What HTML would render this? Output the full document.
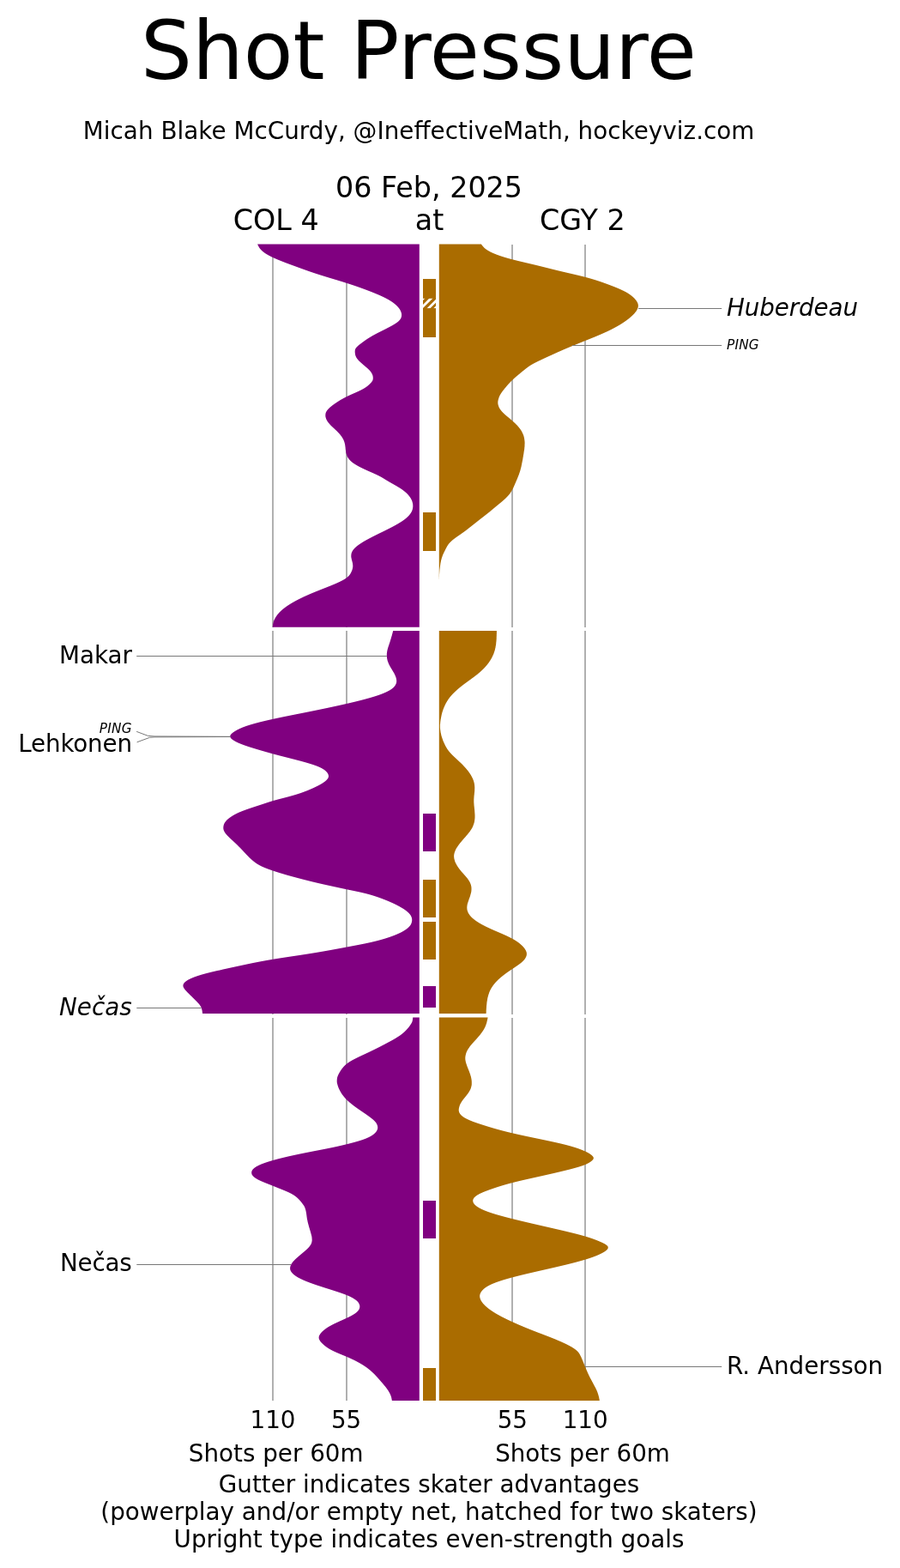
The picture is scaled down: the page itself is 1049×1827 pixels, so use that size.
<!DOCTYPE html>
<html lang="en"><head><meta charset="utf-8"><title>Shot Pressure</title>
<style>html,body{margin:0;padding:0;background:#fff}svg{display:block}</style></head>
<body>
<svg width="1049" height="1827" viewBox="0 0 1049 1827" font-family="'DejaVu Sans','Liberation Sans',sans-serif" fill="#000">
<rect width="1049" height="1827" fill="#fff"/>
<path d="M318.0,285V731M404.0,285V731M597.0,285V731M682.0,285V731M318.0,735V1182M404.0,735V1182M597.0,735V1182M682.0,735V1182M318.0,1186V1632M404.0,1186V1632M597.0,1186V1632M682.0,1186V1632" stroke="#b0b0b0" stroke-width="2" fill="none"/>
<path d="M488.8,284.6L300.1,284.6L300.8,286.1L301.6,287.6L302.5,289.1L303.7,290.6L305.1,292.1L306.9,293.6L308.9,295.1L311.3,296.6L314.0,298.1L317.0,299.6L320.2,301.1L323.7,302.6L327.4,304.1L331.2,305.6L335.1,307.1L339.2,308.6L343.3,310.1L347.4,311.6L351.5,313.1L355.7,314.6L359.9,316.1L364.3,317.6L368.8,319.1L373.5,320.6L378.3,322.1L383.2,323.6L388.2,325.1L393.2,326.6L398.1,328.1L402.9,329.6L407.6,331.1L412.1,332.6L416.5,334.1L420.7,335.6L424.8,337.1L428.8,338.6L432.7,340.1L436.4,341.6L440.0,343.1L443.5,344.6L446.7,346.1L449.7,347.6L452.5,349.1L455.0,350.6L457.3,352.1L459.3,353.6L461.1,355.1L462.7,356.6L464.1,358.1L465.3,359.6L466.3,361.1L467.0,362.6L467.6,364.1L468.0,365.6L468.1,367.1L468.0,368.6L467.6,370.1L466.9,371.6L465.8,373.1L464.3,374.6L462.4,376.1L460.1,377.6L457.6,379.1L454.9,380.6L452.0,382.1L449.1,383.6L446.1,385.1L443.1,386.6L440.1,388.1L437.3,389.6L434.5,391.1L432.0,392.6L429.5,394.1L427.2,395.6L425.1,397.1L423.0,398.6L421.0,400.1L419.0,401.6L417.2,403.1L415.7,404.6L414.5,406.1L413.9,407.6L413.7,409.1L413.7,410.6L413.9,412.1L414.1,413.6L414.6,415.1L415.3,416.6L416.3,418.1L417.5,419.6L419.0,421.1L420.6,422.6L422.3,424.1L424.0,425.6L425.8,427.1L427.6,428.6L429.2,430.1L430.7,431.6L432.0,433.1L433.0,434.6L433.8,436.1L434.4,437.6L434.7,439.1L434.8,440.6L434.7,442.1L434.2,443.6L433.2,445.1L431.9,446.6L430.4,448.1L428.7,449.6L426.7,451.1L424.4,452.6L421.7,454.1L418.7,455.6L415.4,457.1L412.0,458.6L408.6,460.1L405.4,461.6L402.4,463.1L399.6,464.6L396.9,466.1L394.5,467.6L392.2,469.1L390.0,470.6L387.9,472.1L386.0,473.6L384.2,475.1L382.7,476.6L381.4,478.1L380.4,479.6L379.7,481.1L379.4,482.6L379.3,484.1L379.4,485.6L379.8,487.1L380.3,488.6L381.1,490.1L382.0,491.6L383.2,493.1L384.5,494.6L385.9,496.1L387.5,497.6L389.1,499.1L390.7,500.6L392.3,502.1L393.8,503.6L395.2,505.1L396.5,506.6L397.7,508.1L398.7,509.6L399.6,511.1L400.4,512.6L401.0,514.1L401.5,515.6L401.9,517.1L402.2,518.6L402.4,520.1L402.6,521.6L402.7,523.1L402.9,524.6L403.1,526.1L403.3,527.6L403.7,529.1L404.2,530.6L404.8,532.1L405.7,533.6L406.8,535.1L408.1,536.6L409.7,538.1L411.6,539.6L413.9,541.1L416.4,542.6L419.1,544.1L422.1,545.6L425.3,547.1L428.6,548.6L432.0,550.1L435.4,551.6L438.7,553.1L441.8,554.6L444.6,556.1L447.1,557.6L449.5,559.1L452.0,560.6L454.6,562.1L457.2,563.6L459.9,565.1L462.5,566.6L465.0,568.1L467.4,569.6L469.5,571.1L471.4,572.6L473.2,574.1L474.8,575.6L476.1,577.1L477.3,578.6L478.4,580.1L479.2,581.6L480.0,583.1L480.5,584.6L480.9,586.1L481.2,587.6L481.3,589.1L481.3,590.6L481.1,592.1L480.8,593.6L480.3,595.1L479.6,596.6L478.7,598.1L477.6,599.6L476.3,601.1L474.8,602.6L473.1,604.1L471.2,605.6L469.1,607.1L466.8,608.6L464.3,610.1L461.7,611.6L459.0,613.1L456.1,614.6L453.2,616.1L450.2,617.6L447.2,619.1L444.1,620.6L441.0,622.1L438.0,623.6L435.0,625.1L432.1,626.6L429.3,628.1L426.5,629.6L423.9,631.1L421.5,632.6L419.2,634.1L417.1,635.6L415.2,637.1L413.6,638.6L412.2,640.1L411.1,641.6L410.3,643.1L409.7,644.6L409.4,646.1L409.3,647.6L409.3,649.1L409.6,650.6L409.9,652.1L410.3,653.6L410.7,655.1L411.0,656.6L411.2,658.1L411.3,659.6L411.2,661.1L410.9,662.6L410.5,664.1L409.9,665.6L409.2,667.1L408.4,668.6L407.4,670.1L406.0,671.6L404.3,673.1L402.2,674.6L399.6,676.1L396.7,677.6L393.5,679.1L390.1,680.6L386.5,682.1L382.8,683.6L379.0,685.1L375.2,686.6L371.4,688.1L367.7,689.6L364.0,691.1L360.5,692.6L357.1,694.1L353.8,695.6L350.7,697.1L347.7,698.6L344.8,700.1L342.1,701.6L339.5,703.1L337.1,704.6L334.8,706.1L332.7,707.6L330.7,709.1L328.9,710.6L327.2,712.1L325.7,713.6L324.4,715.1L323.1,716.6L322.1,718.1L321.1,719.6L320.3,721.1L319.5,722.6L318.9,724.1L318.5,725.6L318.2,727.1L318.0,728.6L317.9,730.1L317.9,730.8L488.8,730.8Z" fill="#800080"/>
<path d="M488.8,735.1L458.2,735.1L457.8,736.6L457.4,738.1L457.0,739.6L456.6,741.1L456.1,742.6L455.7,744.1L455.2,745.6L454.8,747.1L454.3,748.6L453.8,750.1L453.3,751.6L452.8,753.1L452.3,754.6L451.9,756.1L451.5,757.6L451.2,759.1L451.0,760.6L450.8,762.1L450.8,763.6L450.8,765.1L451.0,766.6L451.3,768.1L451.6,769.6L452.1,771.1L452.7,772.6L453.3,774.1L454.1,775.6L454.9,777.1L455.8,778.6L456.7,780.1L457.6,781.6L458.5,783.1L459.4,784.6L460.1,786.1L460.8,787.6L461.4,789.1L461.8,790.6L462.1,792.1L462.2,793.6L462.1,795.1L461.7,796.6L461.0,798.1L460.0,799.6L458.7,801.1L456.9,802.6L454.7,804.1L452.0,805.6L448.8,807.1L445.2,808.6L441.1,810.1L436.5,811.6L431.5,813.1L426.1,814.6L420.4,816.1L414.4,817.6L408.1,819.1L401.6,820.6L394.9,822.1L388.0,823.6L381.0,825.1L373.8,826.6L366.5,828.1L359.1,829.6L351.6,831.1L344.0,832.6L336.5,834.1L329.1,835.6L322.0,837.1L315.1,838.6L308.6,840.1L302.4,841.6L296.8,843.1L291.6,844.6L286.9,846.1L282.9,847.6L279.4,849.1L276.4,850.6L273.8,852.1L271.6,853.6L269.8,855.1L268.6,856.6L268.1,858.1L268.6,859.6L269.9,861.1L272.0,862.6L274.5,864.1L277.6,865.6L281.2,867.1L285.2,868.6L289.6,870.1L294.4,871.6L299.3,873.1L304.4,874.6L309.6,876.1L314.9,877.6L320.4,879.1L326.1,880.6L332.0,882.1L337.9,883.6L343.7,885.1L349.5,886.6L355.0,888.1L360.1,889.6L364.9,891.1L369.1,892.6L372.7,894.1L375.6,895.6L378.0,897.1L379.8,898.6L381.2,900.1L382.2,901.6L382.8,903.1L383.0,904.6L382.7,906.1L381.8,907.6L380.5,909.1L378.8,910.6L376.7,912.1L374.3,913.6L371.6,915.1L368.6,916.6L365.5,918.1L362.1,919.6L358.6,921.1L354.7,922.6L350.6,924.1L346.0,925.6L340.9,927.1L335.5,928.6L329.7,930.1L323.9,931.6L318.4,933.1L313.5,934.6L309.0,936.1L304.5,937.6L299.9,939.1L295.3,940.6L290.8,942.1L286.5,943.6L282.5,945.1L278.8,946.6L275.6,948.1L272.8,949.6L270.3,951.1L268.1,952.6L266.1,954.1L264.4,955.6L263.1,957.1L262.0,958.6L261.2,960.1L260.7,961.6L260.4,963.1L260.3,964.6L260.4,966.1L260.8,967.6L261.5,969.1L262.4,970.6L263.6,972.1L264.9,973.6L266.4,975.1L267.9,976.6L269.5,978.1L271.2,979.6L272.8,981.1L274.4,982.6L276.0,984.1L277.5,985.6L279.0,987.1L280.5,988.6L281.9,990.1L283.3,991.6L284.7,993.1L286.1,994.6L287.5,996.1L289.0,997.6L290.4,999.1L292.0,1000.6L293.7,1002.1L295.5,1003.6L297.4,1005.1L299.6,1006.6L302.1,1008.1L305.0,1009.6L308.4,1011.1L312.3,1012.6L316.5,1014.1L321.0,1015.6L325.7,1017.1L330.7,1018.6L335.8,1020.1L341.3,1021.6L346.9,1023.1L352.6,1024.6L358.5,1026.1L364.5,1027.6L370.8,1029.1L377.4,1030.6L384.2,1032.1L391.1,1033.6L398.0,1035.1L405.1,1036.6L412.4,1038.1L419.5,1039.6L425.9,1041.1L431.5,1042.6L436.4,1044.1L440.9,1045.6L445.0,1047.1L448.9,1048.6L452.6,1050.1L456.0,1051.6L459.3,1053.1L462.3,1054.6L465.2,1056.1L467.8,1057.6L470.3,1059.1L472.5,1060.6L474.4,1062.1L476.1,1063.6L477.5,1065.1L478.6,1066.6L479.4,1068.1L479.9,1069.6L480.2,1071.1L480.2,1072.6L480.0,1074.1L479.6,1075.6L479.0,1077.1L478.0,1078.6L476.7,1080.1L475.1,1081.6L473.1,1083.1L470.8,1084.6L468.2,1086.1L465.1,1087.6L461.7,1089.1L457.9,1090.6L453.7,1092.1L449.1,1093.6L444.0,1095.1L438.3,1096.6L432.0,1098.1L425.0,1099.6L417.4,1101.1L409.5,1102.6L401.5,1104.1L393.5,1105.6L385.3,1107.1L376.9,1108.6L368.1,1110.1L358.8,1111.6L349.1,1113.1L339.0,1114.6L329.1,1116.1L319.6,1117.6L310.8,1119.1L302.7,1120.6L295.0,1122.1L287.8,1123.6L280.8,1125.1L273.8,1126.6L266.9,1128.1L260.0,1129.6L253.3,1131.1L246.9,1132.6L240.9,1134.1L235.4,1135.6L230.6,1137.1L226.3,1138.6L222.7,1140.1L219.6,1141.6L217.2,1143.1L215.4,1144.6L214.1,1146.1L213.5,1147.6L213.4,1149.1L213.9,1150.6L214.8,1152.1L215.9,1153.6L217.3,1155.1L218.7,1156.6L220.2,1158.1L221.7,1159.6L223.3,1161.1L224.8,1162.6L226.3,1164.1L227.8,1165.6L229.3,1167.1L230.7,1168.6L232.1,1170.1L233.2,1171.6L234.1,1173.1L234.8,1174.6L235.2,1176.1L235.6,1177.6L235.8,1179.1L236.0,1180.6L236.1,1181.1L488.8,1181.1Z" fill="#800080"/>
<path d="M488.8,1185.6L481.2,1185.6L481.1,1187.1L480.9,1188.6L480.6,1190.1L480.0,1191.6L479.1,1193.1L478.1,1194.6L477.1,1196.1L475.9,1197.6L474.6,1199.1L473.2,1200.6L471.7,1202.1L470.0,1203.6L468.2,1205.1L466.2,1206.6L463.9,1208.1L461.5,1209.6L459.0,1211.1L456.3,1212.6L453.5,1214.1L450.7,1215.6L447.9,1217.1L445.0,1218.6L442.1,1220.1L439.1,1221.6L436.1,1223.1L433.0,1224.6L429.9,1226.1L426.7,1227.6L423.5,1229.1L420.2,1230.6L417.1,1232.1L414.1,1233.6L411.2,1235.1L408.6,1236.6L406.2,1238.1L404.2,1239.6L402.4,1241.1L400.9,1242.6L399.6,1244.1L398.4,1245.6L397.3,1247.1L396.4,1248.6L395.5,1250.1L394.7,1251.6L394.0,1253.1L393.4,1254.6L393.0,1256.1L392.8,1257.6L392.7,1259.1L392.7,1260.6L392.9,1262.1L393.3,1263.6L393.7,1265.1L394.2,1266.6L394.8,1268.1L395.5,1269.6L396.3,1271.1L397.1,1272.6L398.0,1274.1L399.0,1275.6L400.2,1277.1L401.4,1278.6L402.7,1280.1L404.2,1281.6L405.8,1283.1L407.5,1284.6L409.3,1286.1L411.2,1287.6L413.1,1289.1L415.2,1290.6L417.3,1292.1L419.5,1293.6L421.7,1295.1L423.9,1296.6L426.1,1298.1L428.2,1299.6L430.3,1301.1L432.3,1302.6L434.2,1304.1L435.9,1305.6L437.3,1307.1L438.5,1308.6L439.3,1310.1L439.9,1311.6L440.2,1313.1L440.2,1314.6L439.9,1316.1L439.2,1317.6L438.2,1319.1L436.8,1320.6L435.0,1322.1L432.8,1323.6L430.0,1325.1L426.7,1326.6L422.7,1328.1L418.0,1329.6L412.7,1331.1L407.0,1332.6L400.9,1334.1L394.5,1335.6L387.6,1337.1L380.2,1338.6L372.5,1340.1L364.7,1341.6L357.1,1343.1L349.7,1344.6L342.6,1346.1L335.8,1347.6L329.5,1349.1L323.5,1350.6L318.0,1352.1L313.0,1353.6L308.5,1355.1L304.5,1356.6L301.2,1358.1L298.4,1359.6L296.3,1361.1L294.7,1362.6L293.7,1364.1L293.2,1365.6L293.2,1367.1L293.6,1368.6L294.6,1370.1L296.1,1371.6L298.2,1373.1L300.8,1374.6L303.9,1376.1L307.4,1377.6L311.1,1379.1L315.0,1380.6L318.7,1382.1L322.4,1383.6L326.1,1385.1L329.9,1386.6L333.5,1388.1L336.9,1389.6L339.8,1391.1L342.3,1392.6L344.5,1394.1L346.3,1395.6L347.9,1397.1L349.3,1398.6L350.6,1400.1L351.8,1401.6L352.9,1403.1L354.0,1404.6L354.9,1406.1L355.5,1407.6L356.0,1409.1L356.4,1410.6L356.7,1412.1L357.0,1413.6L357.2,1415.1L357.4,1416.6L357.6,1418.1L357.8,1419.6L358.1,1421.1L358.4,1422.6L358.7,1424.1L359.1,1425.6L359.5,1427.1L359.9,1428.6L360.3,1430.1L360.8,1431.6L361.2,1433.1L361.7,1434.6L362.1,1436.1L362.5,1437.6L362.9,1439.1L363.3,1440.6L363.5,1442.1L363.6,1443.6L363.7,1445.1L363.5,1446.6L363.2,1448.1L362.6,1449.6L361.7,1451.1L360.6,1452.6L359.3,1454.1L357.8,1455.6L356.1,1457.1L354.4,1458.6L352.6,1460.1L350.8,1461.6L349.0,1463.1L347.3,1464.6L345.6,1466.1L344.0,1467.6L342.5,1469.1L341.2,1470.6L340.1,1472.1L339.2,1473.6L338.6,1475.1L338.2,1476.6L338.1,1478.1L338.3,1479.6L338.9,1481.1L339.9,1482.6L341.2,1484.1L342.9,1485.6L345.0,1487.1L347.4,1488.6L350.3,1490.1L353.5,1491.6L357.0,1493.1L360.9,1494.6L365.0,1496.1L369.4,1497.6L374.0,1499.1L378.6,1500.6L383.4,1502.1L388.1,1503.6L392.7,1505.1L397.2,1506.6L401.4,1508.1L405.2,1509.6L408.5,1511.1L411.3,1512.6L413.7,1514.1L415.7,1515.6L417.2,1517.1L418.2,1518.6L418.9,1520.1L419.3,1521.6L419.3,1523.1L419.0,1524.6L418.3,1526.1L417.2,1527.6L415.7,1529.1L413.8,1530.6L411.4,1532.1L408.7,1533.6L405.7,1535.1L402.5,1536.6L399.2,1538.1L395.9,1539.6L392.6,1541.1L389.4,1542.6L386.5,1544.1L383.8,1545.6L381.3,1547.1L379.2,1548.6L377.3,1550.1L375.6,1551.6L374.2,1553.1L373.1,1554.6L372.2,1556.1L371.7,1557.6L371.6,1559.1L372.0,1560.6L372.8,1562.1L373.8,1563.6L375.2,1565.1L376.8,1566.6L378.5,1568.1L380.5,1569.6L382.7,1571.1L385.2,1572.6L388.1,1574.1L391.3,1575.6L394.8,1577.1L398.4,1578.6L402.1,1580.1L405.6,1581.6L408.9,1583.1L412.1,1584.6L415.1,1586.1L417.9,1587.6L420.5,1589.1L423.0,1590.6L425.3,1592.1L427.5,1593.6L429.4,1595.1L431.3,1596.6L433.0,1598.1L434.6,1599.6L436.2,1601.1L437.6,1602.6L439.0,1604.1L440.4,1605.6L441.7,1607.1L443.0,1608.6L444.3,1610.1L445.6,1611.6L446.9,1613.1L448.1,1614.6L449.4,1616.1L450.5,1617.6L451.6,1619.1L452.6,1620.6L453.5,1622.1L454.3,1623.6L455.0,1625.1L455.6,1626.6L456.1,1628.1L456.4,1629.6L456.7,1631.1L456.9,1631.9L488.8,1631.9Z" fill="#800080"/>
<path d="M511.8,284.6L560.9,284.6L562.0,286.1L563.3,287.6L564.7,289.1L566.6,290.6L568.9,292.1L571.6,293.6L574.8,295.1L578.5,296.6L582.6,298.1L587.2,299.6L592.3,301.1L597.9,302.6L603.9,304.1L610.2,305.6L616.6,307.1L623.0,308.6L629.1,310.1L635.1,311.6L641.1,313.1L647.1,314.6L653.3,316.1L659.7,317.6L666.2,319.1L672.6,320.6L678.8,322.1L684.5,323.6L689.8,325.1L694.7,326.6L699.3,328.1L703.6,329.6L707.7,331.1L711.7,332.6L715.6,334.1L719.3,335.6L722.8,337.1L726.0,338.6L729.0,340.1L731.6,341.6L733.9,343.1L735.9,344.6L737.7,346.1L739.3,347.6L740.6,349.1L741.8,350.6L742.7,352.1L743.4,353.6L743.8,355.1L743.9,356.6L743.7,358.1L743.2,359.6L742.5,361.1L741.6,362.6L740.4,364.1L739.2,365.6L737.7,367.1L736.1,368.6L734.4,370.1L732.6,371.6L730.6,373.1L728.5,374.6L726.3,376.1L724.0,377.6L721.5,379.1L718.9,380.6L716.1,382.1L713.3,383.6L710.3,385.1L707.1,386.6L703.8,388.1L700.4,389.6L696.9,391.1L693.3,392.6L689.6,394.1L685.9,395.6L682.1,397.1L678.4,398.6L674.7,400.1L671.0,401.6L667.3,403.1L663.7,404.6L660.1,406.1L656.6,407.6L653.2,409.1L649.8,410.6L646.5,412.1L643.2,413.6L639.9,415.1L636.6,416.6L633.4,418.1L630.2,419.6L627.0,421.1L624.0,422.6L621.2,424.1L618.6,425.6L616.3,427.1L614.3,428.6L612.3,430.1L610.5,431.6L608.6,433.1L606.8,434.6L605.0,436.1L603.2,437.6L601.4,439.1L599.7,440.6L598.1,442.1L596.5,443.6L595.0,445.1L593.6,446.6L592.2,448.1L590.9,449.6L589.7,451.1L588.4,452.6L587.2,454.1L586.0,455.6L584.9,457.1L583.9,458.6L583.0,460.1L582.2,461.6L581.6,463.1L581.1,464.6L580.7,466.1L580.4,467.6L580.3,469.1L580.4,470.6L580.7,472.1L581.2,473.6L581.8,475.1L582.7,476.6L583.8,478.1L585.0,479.6L586.5,481.1L588.0,482.6L589.7,484.1L591.5,485.6L593.3,487.1L595.1,488.6L596.8,490.1L598.5,491.6L600.1,493.1L601.6,494.6L603.1,496.1L604.4,497.6L605.6,499.1L606.7,500.6L607.7,502.1L608.5,503.6L609.2,505.1L609.9,506.6L610.4,508.1L610.8,509.6L611.1,511.1L611.3,512.6L611.5,514.1L611.6,515.6L611.6,517.1L611.5,518.6L611.5,520.1L611.3,521.6L611.2,523.1L611.0,524.6L610.7,526.1L610.5,527.6L610.3,529.1L610.0,530.6L609.8,532.1L609.5,533.6L609.3,535.1L609.0,536.6L608.7,538.1L608.4,539.6L608.1,541.1L607.8,542.6L607.5,544.1L607.1,545.6L606.7,547.1L606.3,548.6L605.8,550.1L605.3,551.6L604.8,553.1L604.2,554.6L603.6,556.1L603.0,557.6L602.4,559.1L601.7,560.6L601.1,562.1L600.4,563.6L599.8,565.1L599.1,566.6L598.5,568.1L597.7,569.6L596.9,571.1L596.0,572.6L595.1,574.1L594.0,575.6L592.8,577.1L591.4,578.6L590.0,580.1L588.4,581.6L586.7,583.1L585.0,584.6L583.2,586.1L581.3,587.6L579.5,589.1L577.7,590.6L575.9,592.1L574.1,593.6L572.3,595.1L570.5,596.6L568.6,598.1L566.7,599.6L564.8,601.1L562.9,602.6L560.9,604.1L559.0,605.6L557.1,607.1L555.2,608.6L553.3,610.1L551.4,611.6L549.5,613.1L547.6,614.6L545.7,616.1L543.8,617.6L541.8,619.1L539.7,620.6L537.6,622.1L535.4,623.6L533.2,625.1L531.1,626.6L529.1,628.1L527.2,629.6L525.6,631.1L524.1,632.6L522.8,634.1L521.8,635.6L520.9,637.1L520.1,638.6L519.3,640.1L518.6,641.6L517.8,643.1L517.1,644.6L516.4,646.1L515.8,647.6L515.3,649.1L514.8,650.6L514.4,652.1L514.0,653.6L513.7,655.1L513.4,656.6L513.2,658.1L513.0,659.6L512.8,661.1L512.6,662.6L512.4,664.1L512.3,665.6L512.2,667.1L512.1,668.6L512.0,670.1L512.0,671.6L511.9,673.1L511.9,674.6L511.8,676.1L511.8,677.6L511.8,679.1L511.8,680.6L511.8,682.1L511.8,683.6L511.8,685.1L511.8,686.6L511.8,688.1L511.8,689.6L511.8,691.1L511.8,692.6L511.8,694.1L511.8,695.6L511.8,697.1L511.8,698.6L511.8,700.1L511.8,701.6L511.8,703.1L511.8,704.6L511.8,706.1L511.8,707.6L511.8,709.1L511.8,710.6L511.8,712.1L511.8,713.6L511.8,715.1L511.8,716.6L511.8,718.1L511.8,719.6L511.8,721.1L511.8,722.6L511.8,724.1L511.8,725.6L511.8,727.1L511.8,728.6L511.8,730.1L511.8,730.8L511.8,730.8Z" fill="#aa6c00"/>
<path d="M511.8,735.1L578.9,735.1L578.9,736.6L578.9,738.1L578.8,739.6L578.8,741.1L578.7,742.6L578.7,744.1L578.6,745.6L578.5,747.1L578.3,748.6L578.2,750.1L578.0,751.6L577.7,753.1L577.5,754.6L577.1,756.1L576.8,757.6L576.3,759.1L575.8,760.6L575.3,762.1L574.6,763.6L573.9,765.1L573.2,766.6L572.3,768.1L571.4,769.6L570.4,771.1L569.4,772.6L568.2,774.1L567.0,775.6L565.7,777.1L564.3,778.6L562.8,780.1L561.2,781.6L559.6,783.1L557.8,784.6L556.0,786.1L554.0,787.6L552.1,789.1L550.0,790.6L548.0,792.1L545.9,793.6L543.9,795.1L541.8,796.6L539.8,798.1L537.9,799.6L536.0,801.1L534.2,802.6L532.5,804.1L530.9,805.6L529.3,807.1L527.8,808.6L526.4,810.1L525.1,811.6L523.9,813.1L522.8,814.6L521.8,816.1L520.9,817.6L520.0,819.1L519.2,820.6L518.5,822.1L517.8,823.6L517.2,825.1L516.6,826.6L516.1,828.1L515.6,829.6L515.2,831.1L514.8,832.6L514.5,834.1L514.2,835.6L513.9,837.1L513.6,838.6L513.4,840.1L513.2,841.6L513.1,843.1L512.9,844.6L512.9,846.1L512.9,847.6L513.0,849.1L513.2,850.6L513.4,852.1L513.6,853.6L514.0,855.1L514.3,856.6L514.7,858.1L515.2,859.6L515.7,861.1L516.2,862.6L516.8,864.1L517.5,865.6L518.2,867.1L518.9,868.6L519.7,870.1L520.6,871.6L521.5,873.1L522.6,874.6L523.8,876.1L525.1,877.6L526.5,879.1L528.0,880.6L529.6,882.1L531.2,883.6L532.8,885.1L534.4,886.6L536.0,888.1L537.6,889.6L539.1,891.1L540.5,892.6L541.9,894.1L543.2,895.6L544.5,897.1L545.7,898.6L546.8,900.1L547.8,901.6L548.8,903.1L549.6,904.6L550.4,906.1L551.1,907.6L551.7,909.1L552.2,910.6L552.6,912.1L552.9,913.6L553.1,915.1L553.2,916.6L553.3,918.1L553.2,919.6L553.2,921.1L553.1,922.6L552.9,924.1L552.8,925.6L552.6,927.1L552.5,928.6L552.4,930.1L552.3,931.6L552.3,933.1L552.3,934.6L552.4,936.1L552.5,937.6L552.6,939.1L552.8,940.6L552.9,942.1L553.1,943.6L553.2,945.1L553.3,946.6L553.4,948.1L553.5,949.6L553.5,951.1L553.5,952.6L553.4,954.1L553.2,955.6L553.0,957.1L552.7,958.6L552.2,960.1L551.7,961.6L551.1,963.1L550.4,964.6L549.5,966.1L548.5,967.6L547.5,969.1L546.3,970.6L545.1,972.1L543.8,973.6L542.6,975.1L541.2,976.6L539.9,978.1L538.6,979.6L537.4,981.1L536.1,982.6L535.0,984.1L533.9,985.6L532.9,987.1L531.9,988.6L531.1,990.1L530.5,991.6L529.9,993.1L529.5,994.6L529.2,996.1L529.1,997.6L529.2,999.1L529.4,1000.6L529.8,1002.1L530.2,1003.6L530.8,1005.1L531.6,1006.6L532.4,1008.1L533.3,1009.6L534.3,1011.1L535.4,1012.6L536.6,1014.1L537.8,1015.6L539.1,1017.1L540.5,1018.6L541.8,1020.1L543.1,1021.6L544.4,1023.1L545.5,1024.6L546.5,1026.1L547.4,1027.6L548.1,1029.1L548.7,1030.6L549.1,1032.1L549.4,1033.6L549.5,1035.1L549.5,1036.6L549.4,1038.1L549.2,1039.6L548.8,1041.1L548.4,1042.6L548.0,1044.1L547.5,1045.6L546.9,1047.1L546.4,1048.6L545.9,1050.1L545.4,1051.6L544.9,1053.1L544.6,1054.6L544.4,1056.1L544.3,1057.6L544.4,1059.1L544.6,1060.6L545.1,1062.1L545.7,1063.6L546.6,1065.1L547.6,1066.6L548.9,1068.1L550.4,1069.6L552.2,1071.1L554.1,1072.6L556.3,1074.1L558.7,1075.6L561.3,1077.1L564.1,1078.6L567.1,1080.1L570.3,1081.6L573.6,1083.1L577.0,1084.6L580.5,1086.1L584.0,1087.6L587.4,1089.1L590.7,1090.6L593.8,1092.1L596.7,1093.6L599.4,1095.1L601.8,1096.6L604.0,1098.1L605.9,1099.6L607.6,1101.1L609.2,1102.6L610.5,1104.1L611.7,1105.6L612.6,1107.1L613.3,1108.6L613.8,1110.1L613.9,1111.6L613.8,1113.1L613.3,1114.6L612.6,1116.1L611.7,1117.6L610.4,1119.1L608.9,1120.6L607.2,1122.1L605.2,1123.6L603.1,1125.1L600.9,1126.6L598.7,1128.1L596.4,1129.6L594.2,1131.1L592.0,1132.6L589.9,1134.1L587.9,1135.6L586.0,1137.1L584.1,1138.6L582.4,1140.1L580.7,1141.6L579.2,1143.1L577.8,1144.6L576.5,1146.1L575.3,1147.6L574.2,1149.1L573.2,1150.6L572.3,1152.1L571.5,1153.6L570.8,1155.1L570.2,1156.6L569.7,1158.1L569.2,1159.6L568.8,1161.1L568.4,1162.6L568.1,1164.1L567.9,1165.6L567.6,1167.1L567.4,1168.6L567.3,1170.1L567.1,1171.6L567.0,1173.1L566.9,1174.6L566.8,1176.1L566.7,1177.6L566.7,1179.1L566.6,1180.6L566.6,1181.1L511.8,1181.1Z" fill="#aa6c00"/>
<path d="M511.8,1185.6L568.6,1185.6L568.3,1187.1L568.0,1188.6L567.6,1190.1L567.3,1191.6L566.8,1193.1L566.3,1194.6L565.7,1196.1L565.0,1197.6L564.2,1199.1L563.3,1200.6L562.3,1202.1L561.2,1203.6L560.1,1205.1L558.9,1206.6L557.6,1208.1L556.3,1209.6L555.0,1211.1L553.6,1212.6L552.2,1214.1L550.9,1215.6L549.6,1217.1L548.3,1218.6L547.2,1220.1L546.2,1221.6L545.2,1223.1L544.4,1224.6L543.7,1226.1L543.2,1227.6L542.8,1229.1L542.5,1230.6L542.3,1232.1L542.3,1233.6L542.4,1235.1L542.7,1236.6L543.0,1238.1L543.5,1239.6L544.0,1241.1L544.5,1242.6L545.1,1244.1L545.7,1245.6L546.3,1247.1L546.9,1248.6L547.4,1250.1L548.0,1251.6L548.4,1253.1L548.9,1254.6L549.2,1256.1L549.5,1257.6L549.7,1259.1L549.8,1260.6L549.8,1262.1L549.8,1263.6L549.6,1265.1L549.2,1266.6L548.8,1268.1L548.2,1269.6L547.4,1271.1L546.5,1272.6L545.5,1274.1L544.4,1275.6L543.2,1277.1L542.0,1278.6L540.8,1280.1L539.6,1281.6L538.5,1283.1L537.6,1284.6L536.7,1286.1L536.0,1287.6L535.5,1289.1L535.1,1290.6L534.8,1292.1L534.7,1293.6L534.9,1295.1L535.4,1296.6L536.3,1298.1L537.6,1299.6L539.4,1301.1L541.7,1302.6L544.6,1304.1L547.9,1305.6L551.6,1307.1L555.9,1308.6L560.4,1310.1L565.1,1311.6L569.9,1313.1L574.9,1314.6L580.2,1316.1L585.8,1317.6L591.7,1319.1L598.0,1320.6L604.6,1322.1L611.5,1323.6L618.6,1325.1L625.8,1326.6L633.0,1328.1L640.1,1329.6L647.0,1331.1L653.6,1332.6L659.7,1334.1L665.2,1335.6L670.2,1337.1L674.7,1338.6L678.6,1340.1L682.1,1341.6L685.1,1343.1L687.6,1344.6L689.6,1346.1L691.1,1347.6L691.9,1349.1L691.6,1350.6L690.4,1352.1L688.6,1353.6L686.2,1355.1L683.3,1356.6L679.6,1358.1L675.0,1359.6L669.8,1361.1L664.2,1362.6L658.1,1364.1L651.9,1365.6L645.5,1367.1L638.9,1368.6L632.3,1370.1L625.5,1371.6L618.8,1373.1L612.1,1374.6L605.6,1376.1L599.5,1377.6L593.7,1379.1L588.3,1380.6L583.3,1382.1L578.6,1383.6L574.2,1385.1L569.9,1386.6L565.9,1388.1L562.2,1389.6L559.0,1391.1L556.3,1392.6L554.2,1394.1L552.6,1395.6L551.7,1397.1L551.2,1398.6L551.3,1400.1L551.8,1401.6L552.8,1403.1L554.3,1404.6L556.2,1406.1L558.7,1407.6L561.6,1409.1L565.0,1410.6L568.9,1412.1L573.3,1413.6L578.1,1415.1L583.4,1416.6L588.9,1418.1L594.7,1419.6L600.7,1421.1L606.9,1422.6L613.2,1424.1L619.6,1425.6L626.1,1427.1L632.6,1428.6L639.2,1430.1L645.7,1431.6L652.2,1433.1L658.6,1434.6L664.8,1436.1L670.9,1437.6L676.6,1439.1L681.9,1440.6L686.8,1442.1L691.2,1443.6L695.2,1445.1L698.8,1446.6L702.2,1448.1L705.1,1449.6L707.3,1451.1L708.6,1452.6L708.8,1454.1L708.1,1455.6L706.6,1457.1L704.5,1458.6L701.9,1460.1L698.9,1461.6L695.5,1463.1L691.6,1464.6L687.3,1466.1L682.6,1467.6L677.4,1469.1L672.0,1470.6L666.2,1472.1L660.2,1473.6L653.9,1475.1L647.5,1476.6L641.0,1478.1L634.4,1479.6L627.8,1481.1L621.3,1482.6L614.8,1484.1L608.5,1485.6L602.5,1487.1L596.7,1488.6L591.3,1490.1L586.2,1491.6L581.6,1493.1L577.4,1494.6L573.7,1496.1L570.5,1497.6L567.8,1499.1L565.5,1500.6L563.7,1502.1L562.2,1503.6L561.0,1505.1L560.1,1506.6L559.5,1508.1L559.2,1509.6L559.2,1511.1L559.5,1512.6L560.0,1514.1L560.7,1515.6L561.7,1517.1L562.8,1518.6L564.1,1520.1L565.6,1521.6L567.3,1523.1L569.1,1524.6L571.1,1526.1L573.3,1527.6L575.6,1529.1L578.0,1530.6L580.7,1532.1L583.4,1533.6L586.3,1535.1L589.3,1536.6L592.4,1538.1L595.6,1539.6L598.9,1541.1L602.2,1542.6L605.7,1544.1L609.2,1545.6L612.8,1547.1L616.5,1548.6L620.3,1550.1L624.1,1551.6L628.0,1553.1L632.0,1554.6L635.9,1556.1L639.8,1557.6L643.6,1559.1L647.3,1560.6L650.8,1562.1L654.3,1563.6L657.6,1565.1L660.7,1566.6L663.6,1568.1L666.3,1569.6L668.7,1571.1L670.8,1572.6L672.6,1574.1L674.0,1575.6L675.1,1577.1L676.0,1578.6L676.7,1580.1L677.5,1581.6L678.1,1583.1L678.8,1584.6L679.4,1586.1L680.0,1587.6L680.6,1589.1L681.2,1590.6L681.8,1592.1L682.5,1593.6L683.1,1595.1L683.7,1596.6L684.4,1598.1L685.0,1599.6L685.7,1601.1L686.4,1602.6L687.1,1604.1L687.9,1605.6L688.7,1607.1L689.5,1608.6L690.3,1610.1L691.1,1611.6L691.9,1613.1L692.7,1614.6L693.5,1616.1L694.3,1617.6L695.0,1619.1L695.7,1620.6L696.3,1622.1L696.8,1623.6L697.3,1625.1L697.7,1626.6L698.1,1628.1L698.4,1629.6L698.7,1631.1L698.8,1631.9L511.8,1631.9Z" fill="#aa6c00"/>
<rect x="493" y="325" width="15" height="22.8" fill="#aa6c00"/>
<rect x="493" y="359.1" width="15" height="33.9" fill="#aa6c00"/>
<rect x="493" y="597" width="15" height="45.0" fill="#aa6c00"/>
<rect x="493" y="948" width="15" height="44.0" fill="#800080"/>
<rect x="493" y="1025" width="15" height="44.0" fill="#aa6c00"/>
<rect x="493" y="1074" width="15" height="44.0" fill="#aa6c00"/>
<rect x="493" y="1149" width="15" height="25.0" fill="#800080"/>
<rect x="493" y="1399" width="15" height="44.0" fill="#800080"/>
<rect x="493" y="1594" width="15" height="38.0" fill="#aa6c00"/>
<clipPath id="hc"><rect x="493" y="346.5" width="15" height="14"/></clipPath>
<path d="M473.00,370L477.95,370L507.95,340L503.00,340ZM482.10,370L486.80,370L516.80,340L512.10,340ZM490.65,370L494.60,370L524.60,340L520.65,340Z" fill="#aa6c00" clip-path="url(#hc)"/>
<path d="M744.2,359.5H841.2M667.2,402.5H841.2M159.2,764.5H450.8M159.2,852.4L172.5,857.4L180,857.95L268.7,858.3M159.6,864.8L174.5,859.3L180,858.85L268.7,858.5M159.3,1174.5H234.6M159.3,1473.5H339M682,1592.5H841.2" stroke="#787878" stroke-width="1" fill="none"/>
<text x="487.95" y="91.7" font-size="94.44" text-anchor="middle">Shot Pressure</text>
<text x="488.1" y="162" font-size="27.78" text-anchor="middle" textLength="782.62" lengthAdjust="spacing">Micah Blake McCurdy, @IneffectiveMath, hockeyviz.com</text>
<text x="500" y="230" font-size="33.33" text-anchor="middle">06 Feb, 2025</text>
<text x="321.7" y="268" font-size="33.33" text-anchor="middle">COL 4</text>
<text x="500.5" y="268" font-size="33.33" text-anchor="middle">at</text>
<text x="678.8" y="268" font-size="33.33" text-anchor="middle">CGY 2</text>
<text x="847" y="368.3" font-size="27.78" text-anchor="start" font-style="italic" textLength="153.02" lengthAdjust="spacing">Huberdeau</text>
<text x="847" y="406.9" font-size="15.28" text-anchor="start" font-style="italic" textLength="37.67" lengthAdjust="spacing">PING</text>
<text x="154" y="772.9" font-size="27.78" text-anchor="end">Makar</text>
<text x="153.6" y="853.8" font-size="15.28" text-anchor="end" font-style="italic" textLength="37.77" lengthAdjust="spacing">PING</text>
<text x="154" y="875.6" font-size="27.78" text-anchor="end" textLength="132.72" lengthAdjust="spacing">Lehkonen</text>
<text x="153.7" y="1182.6" font-size="27.78" text-anchor="end" font-style="italic">Nečas</text>
<text x="153.6" y="1480.7" font-size="27.78" text-anchor="end" textLength="83.51" lengthAdjust="spacing">Nečas</text>
<text x="847" y="1601" font-size="27.78" text-anchor="start">R. Andersson</text>
<text x="318.0" y="1663.5" font-size="27.78" text-anchor="middle">110</text>
<text x="403.6" y="1663.5" font-size="27.78" text-anchor="middle">55</text>
<text x="597.3" y="1663.5" font-size="27.78" text-anchor="middle">55</text>
<text x="682.2" y="1663.5" font-size="27.78" text-anchor="middle">110</text>
<text x="321.7" y="1702.5" font-size="27.78" text-anchor="middle">Shots per 60m</text>
<text x="679.0" y="1702.5" font-size="27.78" text-anchor="middle">Shots per 60m</text>
<text x="500" y="1738.9" font-size="27.78" text-anchor="middle">Gutter indicates skater advantages</text>
<text x="500" y="1770.9" font-size="27.78" text-anchor="middle" textLength="765.27" lengthAdjust="spacing">(powerplay and/or empty net, hatched for two skaters)</text>
<text x="500" y="1803" font-size="27.78" text-anchor="middle">Upright type indicates even-strength goals</text>
</svg>
</body></html>
